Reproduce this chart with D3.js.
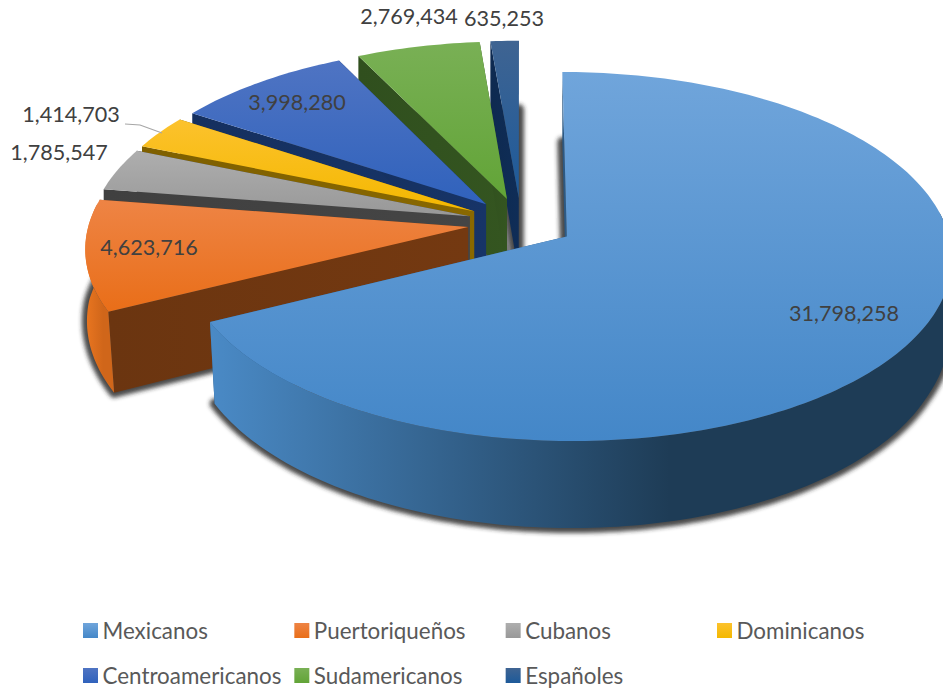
<!DOCTYPE html>
<html><head><meta charset="utf-8">
<script src="https://cdn.jsdelivr.net/npm/d3@7/dist/d3.min.js"></script>
<style>html,body{margin:0;padding:0;background:#fff;overflow:hidden}svg{display:block}text{font-family:Lato,"Open Sans",sans-serif}</style>
</head><body><svg id="c" width="943" height="689"></svg>
<script>
const categories=["Mexicanos","Puertoriqueños","Cubanos","Dominicanos","Centroamericanos","Sudamericanos","Españoles"];
const values=[31798258,4623716,1785547,1414703,3998280,2769434,635253];
const topLight=["#70a5db","#ee8445","#aeaeae","#fcc22d","#4f74c3","#79b055","#3f6492"];
const topDark=["#4487c8","#e96e18","#989898","#f4b800","#3062bc","#62a437","#1d5a9a"];
const wallColors=["#2a5680","#6b3510","#404040","#7f6000","#15305f","#304f1e","#0e2a50"];
const rimStart=["#4a8ac6","#ea7620","#7a7a7a","#c09000","#2a4f96","#4a7c2a","#174470"];
const rimEnd=["#1e3c56","#d0661a","#5a5a5a","#a07800","#1c3563","#375422","#0f2a4d"];
const labelPos=[[844,316],[149,250],[59,155],[71,117],[297,105],[409,19],[504,21]];
const leader=[[125,124],[140,125],[162,133]];

const explode=0.141, persp=0.108, depth=77, taper=0.015;
const sx=d3.scaleLinear().domain([-1,1]).range([521-379,521+379]);
const sy=d3.scaleLinear().domain([-1,1]).range([223-179.4,223+179.4]);
const taperAt=d3.scaleLinear().domain([0,0.5]).range([0,taper]).clamp(true);
function proj(X,Y,Z){
  const s=1/(1-persp*Y);
  const x0=sx(X*s), y0=sy(Y*s);
  return [sx(0)+(x0-sx(0))*(1-taperAt(Y)*Z), y0+Z*depth*s];
}
const svg=d3.select("#c");
const defs=svg.append("defs");
const blur=defs.append("filter").attr("id","sh").attr("x","-20%").attr("y","-20%").attr("width","140%").attr("height","140%");
blur.append("feGaussianBlur").attr("stdDeviation",2.2);

const pie=d3.pie().sort(null).startAngle(0).endAngle(2*Math.PI);
const arcs=pie(values);
const line=d3.line();
const fmt=d3.format(",");

function geom(a){
  const m=(a.startAngle+a.endAngle)/2;
  const ox=explode*Math.sin(m), oy=-explode*Math.cos(m);
  const n=Math.max(4,Math.ceil((a.endAngle-a.startAngle)/0.02));
  const ang=d3.range(n+1).map(i=>a.startAngle+(a.endAngle-a.startAngle)*i/n);
  const pt=(t)=>[ox+Math.sin(t),oy-Math.cos(t)];
  return {ox,oy,ang,pt};
}
function face(g,Z){
  const rim=g.ang.map(t=>{const p=g.pt(t);return proj(p[0],p[1],Z);});
  return [proj(g.ox,g.oy,Z),...rim];
}
function gradId(kind,i){return kind+i;}
categories.forEach((c,i)=>{
  const lg=defs.append("linearGradient").attr("id",gradId("top",i)).attr("x1",0).attr("y1",0).attr("x2",0).attr("y2",1);
  lg.append("stop").attr("offset","0").attr("stop-color",topLight[i]);
  lg.append("stop").attr("offset","1").attr("stop-color",topDark[i]);
  const wg=defs.append("linearGradient").attr("id",gradId("wall",i)).attr("x1",0).attr("y1",0).attr("x2",1).attr("y2",0);
  wg.append("stop").attr("offset","0").attr("stop-color",wallColors[i]);
  wg.append("stop").attr("offset","1").attr("stop-color",d3.color(wallColors[i]).brighter(0.22).formatHex());
});

const shadowG=svg.append("g").attr("filter","url(#sh)");
arcs.forEach(a=>{
  const g=geom(a);
  shadowG.append("path").attr("d",line(face(g,1))+"Z").attr("fill","#2a2a2a").attr("stroke","#2a2a2a").attr("stroke-width",10).attr("stroke-linejoin","round").attr("opacity",.85);
});

const order=d3.range(values.length).reverse();
order.forEach(i=>{
  const a=arcs[i], g=geom(a), G=svg.append("g");
  [a.startAngle,a.endAngle].forEach(t=>{
    const p=g.pt(t);
    const q=[proj(g.ox,g.oy,0),proj(p[0],p[1],0),proj(p[0],p[1],1),proj(g.ox,g.oy,1)];
    G.append("path").attr("d",line(q)+"Z").attr("fill",`url(#${gradId("wall",i)})`);
  });
  const front=g.ang.filter(t=>-Math.cos(t)>-0.15);
  if(front.length>1){
    const top=front.map(t=>{const p=g.pt(t);return proj(p[0],p[1],0);});
    const bot=front.map(t=>{const p=g.pt(t);return proj(p[0],p[1],1);}).reverse();
    const xs=top.map(d=>d[0]).concat(bot.map(d=>d[0]));
    const id=gradId("rim",i);
    const lg=defs.append("linearGradient").attr("id",id).attr("gradientUnits","userSpaceOnUse")
      .attr("x1",d3.min(xs)).attr("x2",d3.min(xs)+(d3.max(xs)-d3.min(xs))*0.62).attr("y1",0).attr("y2",0);
    lg.append("stop").attr("offset","0").attr("stop-color",rimStart[i]);
    lg.append("stop").attr("offset","1").attr("stop-color",rimEnd[i]);
    G.append("path").attr("d",line(top.concat(bot))+"Z").attr("fill",`url(#${id})`);
  }
  G.append("path").attr("d",line(face(g,0))+"Z").attr("fill",`url(#${gradId("top",i)})`);
});

svg.append("path").attr("d",line(leader)).attr("fill","none").attr("stroke","#a6a6a6").attr("stroke-width",1.2);

svg.selectAll("text.v").data(values).join("text").attr("class","v")
  .attr("x",(d,i)=>labelPos[i][0]).attr("y",(d,i)=>labelPos[i][1])
  .attr("text-anchor","middle").attr("dominant-baseline","middle")
  .attr("font-size",21.6).attr("fill","#404040").text(d=>fmt(d));

const lx=d3.scalePoint().domain([0,1,2,3]).range([83,717]);
const ly=d3.scalePoint().domain([0,1]).range([623,668]);
const leg=svg.selectAll("g.l").data(categories).join("g").attr("class","l")
  .attr("transform",(d,i)=>`translate(${lx(i%4)},${ly(Math.floor(i/4))})`);
leg.append("rect").attr("width",15).attr("height",15).attr("fill",(d,i)=>`url(#${gradId("top",i)})`);
leg.append("text").attr("x",19.5).attr("y",15.5).attr("font-size",22.4).attr("fill","#595959").text(d=>d);
</script></body></html>
